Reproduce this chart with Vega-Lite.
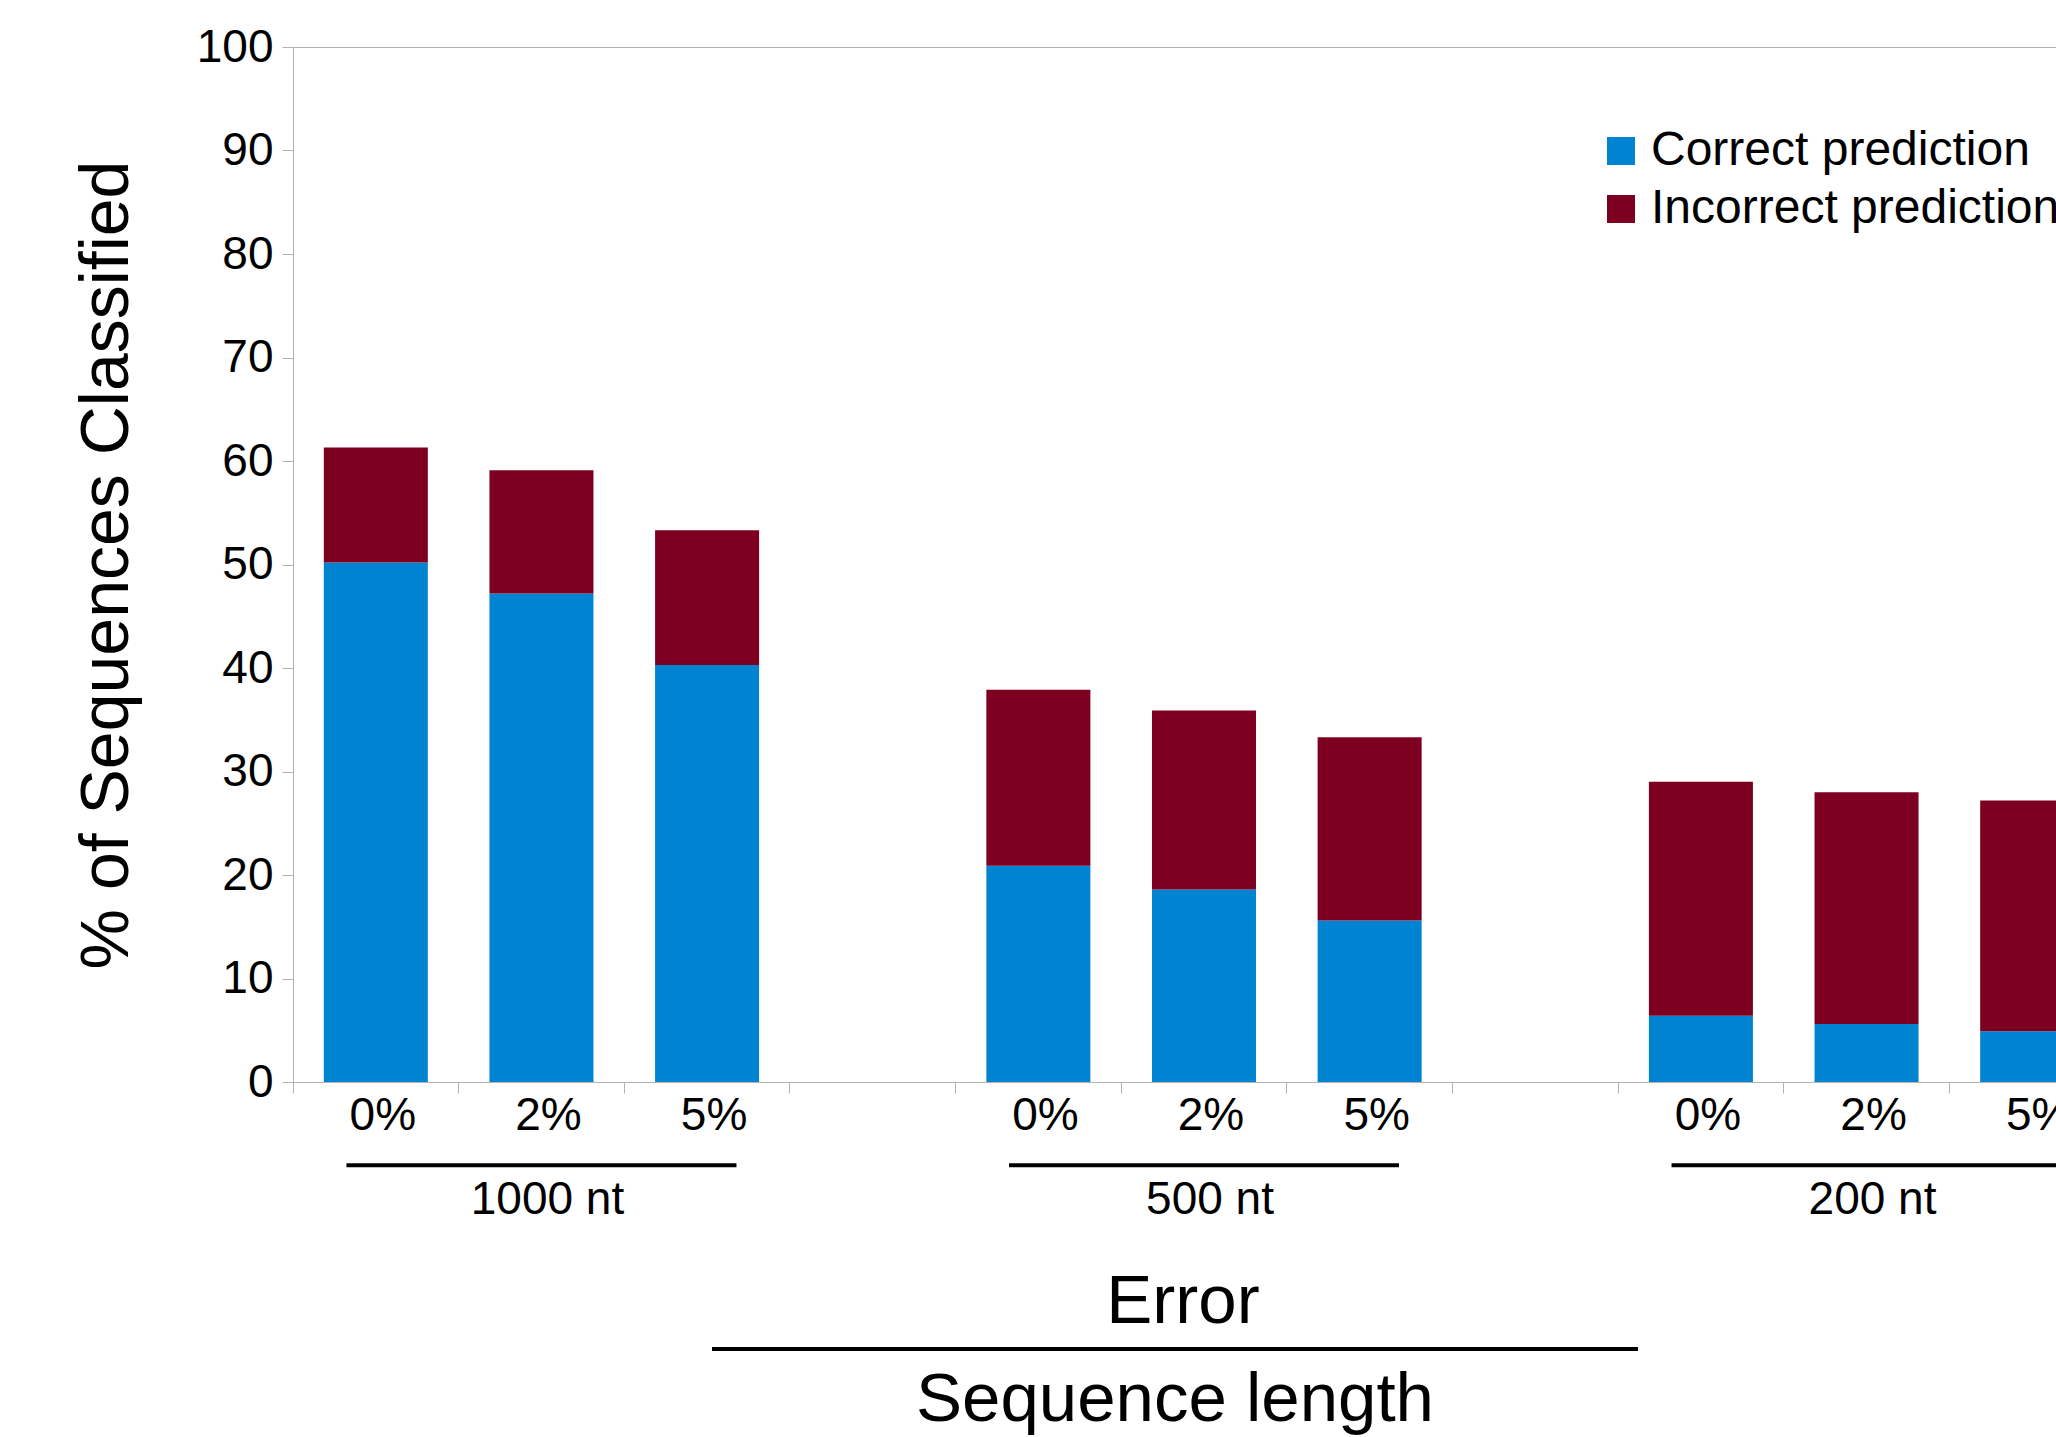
{
  "$schema": "https://vega.github.io/schema/vega-lite/v6.json",
  "background": "white",
  "padding": {"left": 72, "top": 23, "right": 0, "bottom": 0},
  "spacing": 0,
  "config": {
    "font": "Liberation Sans",
    "view": {"stroke": null},
    "text": {"color": "black"}
  },
  "datasets": {
    "bars": [
      {"key": "1000 nt|0%", "prediction": "Correct prediction", "value": 50.2},
      {"key": "1000 nt|0%", "prediction": "Incorrect prediction", "value": 11.1},
      {"key": "1000 nt|2%", "prediction": "Correct prediction", "value": 47.2},
      {"key": "1000 nt|2%", "prediction": "Incorrect prediction", "value": 11.9},
      {"key": "1000 nt|5%", "prediction": "Correct prediction", "value": 40.3},
      {"key": "1000 nt|5%", "prediction": "Incorrect prediction", "value": 13.0},
      {"key": "500 nt|0%", "prediction": "Correct prediction", "value": 20.9},
      {"key": "500 nt|0%", "prediction": "Incorrect prediction", "value": 17.0},
      {"key": "500 nt|2%", "prediction": "Correct prediction", "value": 18.6},
      {"key": "500 nt|2%", "prediction": "Incorrect prediction", "value": 17.3},
      {"key": "500 nt|5%", "prediction": "Correct prediction", "value": 15.6},
      {"key": "500 nt|5%", "prediction": "Incorrect prediction", "value": 17.7},
      {"key": "200 nt|0%", "prediction": "Correct prediction", "value": 6.4},
      {"key": "200 nt|0%", "prediction": "Incorrect prediction", "value": 22.6},
      {"key": "200 nt|2%", "prediction": "Correct prediction", "value": 5.6},
      {"key": "200 nt|2%", "prediction": "Incorrect prediction", "value": 22.4},
      {"key": "200 nt|5%", "prediction": "Correct prediction", "value": 4.9},
      {"key": "200 nt|5%", "prediction": "Incorrect prediction", "value": 22.3}
    ],
    "groups": [
      {"key": "1000 nt|2%", "group": "1000 nt"},
      {"key": "500 nt|2%", "group": "500 nt"},
      {"key": "200 nt|2%", "group": "200 nt"}
    ],
    "axisTitle": [
      {"upper": "Error", "lower": "Sequence length"}
    ]
  },
  "vconcat": [
    {
      "width": 1822,
      "height": 1035,
      "data": {"name": "bars"},
      "view": {"stroke": "#b3b3b3", "strokeWidth": 1},
      "mark": {"type": "bar", "width": {"band": 0.628}},
      "encoding": {
        "x": {
          "field": "key",
          "type": "nominal",
          "sort": null,
          "scale": {
            "domain": ["1000 nt|0%", "1000 nt|2%", "1000 nt|5%", "gap1", "500 nt|0%", "500 nt|2%", "500 nt|5%", "gap2", "200 nt|0%", "200 nt|2%", "200 nt|5%"],
            "paddingInner": 0,
            "paddingOuter": 0
          },
          "axis": {
            "title": null,
            "bandPosition": 0,
            "labelExpr": "indexof(datum.value, '|') >= 0 ? split(datum.value, '|')[1] : ''",
            "labelAngle": 0,
            "labelFontSize": 46,
            "labelColor": "black",
            "labelPadding": 0,
            "labelOffset": 7,
            "tickSize": 11,
            "tickColor": "#b3b3b3",
            "domainColor": "#b3b3b3",
            "grid": false
          }
        },
        "y": {
          "field": "value",
          "type": "quantitative",
          "stack": "zero",
          "scale": {"domain": [0, 100], "nice": false},
          "axis": {
            "title": "% of Sequences Classified",
            "titleFontSize": 68,
            "titleFontWeight": "normal",
            "titleColor": "black",
            "titlePadding": 55,
            "values": [0, 10, 20, 30, 40, 50, 60, 70, 80, 90, 100],
            "labelFontSize": 46,
            "labelColor": "black",
            "labelPadding": 9,
            "tickSize": 11,
            "tickColor": "#b3b3b3",
            "domainColor": "#b3b3b3",
            "grid": false
          }
        },
        "order": {"field": "prediction", "type": "nominal", "sort": "ascending"},
        "color": {
          "field": "prediction",
          "type": "nominal",
          "scale": {
            "domain": ["Correct prediction", "Incorrect prediction"],
            "range": ["#0084d1", "#7e0021"]
          },
          "legend": {
            "title": null,
            "orient": "none",
            "legendX": 1304,
            "legendY": 80,
            "padding": 0,
            "symbolType": "square",
            "symbolSize": 784,
            "symbolStrokeWidth": 0,
            "symbolOpacity": 1,
            "labelFontSize": 48,
            "labelColor": "black",
            "labelOffset": 6,
            "labelLimit": 0,
            "rowPadding": 10
          }
        }
      }
    },
    {
      "width": 1822,
      "height": 110,
      "data": {"name": "groups"},
      "encoding": {
        "x": {
          "field": "key",
          "type": "nominal",
          "sort": null,
          "scale": {
            "domain": ["1000 nt|0%", "1000 nt|2%", "1000 nt|5%", "gap1", "500 nt|0%", "500 nt|2%", "500 nt|5%", "gap2", "200 nt|0%", "200 nt|2%", "200 nt|5%"],
            "paddingInner": 0,
            "paddingOuter": 0
          },
          "axis": null
        }
      },
      "layer": [
        {
          "mark": {"type": "tick", "orient": "horizontal", "size": 390, "thickness": 4, "color": "black", "opacity": 1, "yOffset": -28.75}
        },
        {
          "mark": {"type": "text", "fontSize": 46, "baseline": "alphabetic", "dy": 20, "dx": 6, "color": "black"},
          "encoding": {"text": {"field": "group"}}
        }
      ]
    },
    {
      "width": 1764,
      "height": 187,
      "data": {"name": "axisTitle"},
      "layer": [
        {
          "mark": {"type": "tick", "orient": "horizontal", "size": 926, "thickness": 4, "color": "black", "opacity": 1, "yOffset": 6.5},
          "encoding": {}
        },
        {
          "mark": {"type": "text", "fontSize": 69, "baseline": "alphabetic", "dy": -19.5, "dx": 8, "color": "black"},
          "encoding": {"text": {"field": "upper"}}
        },
        {
          "mark": {"type": "text", "fontSize": 69, "baseline": "alphabetic", "dy": 78.5, "color": "black"},
          "encoding": {"text": {"field": "lower"}}
        }
      ]
    }
  ]
}
